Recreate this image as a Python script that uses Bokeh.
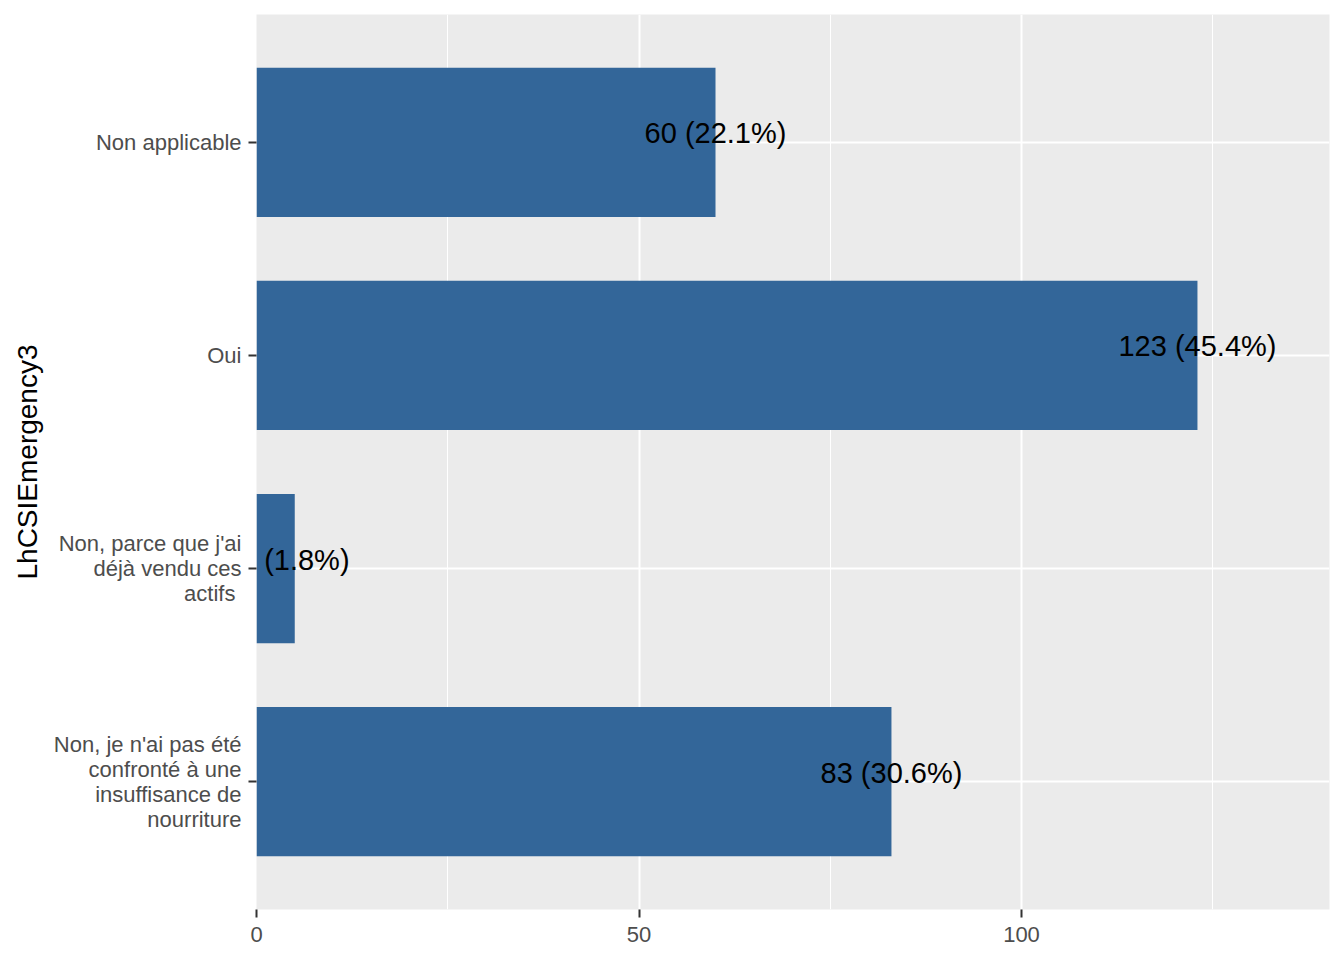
from bokeh.plotting import figure
from bokeh.models import ColumnDataSource, FactorRange, Range1d, FixedTicker
from bokeh.core.properties import value
from bokeh.embed import file_html
from bokeh.resources import INLINE

# Data (top to bottom as displayed)
categories = [
    "Non applicable",
    "Oui",
    "Non, parce que j'ai\ndéjà vendu ces\nactifs ",
    "Non, je n'ai pas été\nconfronté à une\ninsuffisance de\nnourriture",
]
counts = [60, 123, 5, 83]
percents = [22.1, 45.4, 1.8, 30.6]
x_ticks = [0, 50, 100]
x_minor_ticks = [25, 75, 125]

labels = [f"{c} ({p}%)" for c, p in zip(counts, percents)]

src = ColumnDataSource(dict(cat=categories, count=counts, label=labels))

FONT = "Liberation Sans"

p = figure(
    width=1336, height=952,
    y_range=FactorRange(factors=list(reversed(categories)), range_padding=0.1,
                        range_padding_units="absolute"),
    x_range=Range1d(0, 140.26),
    output_backend="svg", toolbar_location=None,
    min_border_left=256, min_border_top=14, min_border_right=7, min_border_bottom=43,
)

p.background_fill_color = "#EBEBEB"
p.border_fill_color = "white"
p.outline_line_color = None

p.hbar(y="cat", right="count", left=0, height=0.7, source=src,
       fill_color="#336699", line_color=None)

p.text(x="count", y="cat", text="label", source=src,
       text_align="center", text_baseline="middle", y_offset=-9,
       text_font=value(FONT), text_font_size="29px", text_color="black")

# Grid
p.xaxis.ticker = FixedTicker(ticks=x_ticks, minor_ticks=x_minor_ticks)
p.xgrid.grid_line_color = "white"
p.xgrid.grid_line_width = 2
p.xgrid.minor_grid_line_color = "white"
p.xgrid.minor_grid_line_width = 1
p.ygrid.grid_line_color = "white"
p.ygrid.grid_line_width = 2

for ax in (p.xaxis[0], p.yaxis[0]):
    ax.axis_line_color = None
    ax.major_tick_line_color = "#333333"
    ax.major_tick_line_width = 2
    ax.major_tick_out = 8
    ax.major_tick_in = 0
    ax.minor_tick_line_color = None
    ax.major_label_text_font = FONT
    ax.major_label_text_font_size = "22px"
    ax.major_label_text_color = "#4D4D4D"
    ax.major_label_standoff = 7

p.xaxis.major_label_standoff = 9
p.yaxis.major_label_text_line_height = 1.0

p.yaxis.axis_label = "LhCSIEmergency3"
p.yaxis.axis_label_text_font = FONT
p.yaxis.axis_label_text_font_size = "28px"
p.yaxis.axis_label_text_font_style = "normal"
p.yaxis.axis_label_text_color = "black"
p.yaxis.axis_label_standoff = 8

open("out.html", "w").write(file_html(p, INLINE))
